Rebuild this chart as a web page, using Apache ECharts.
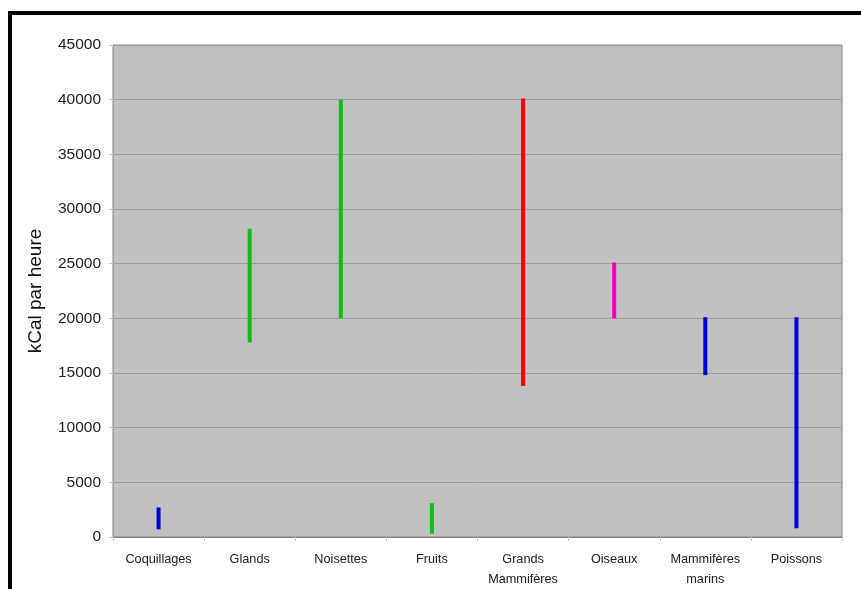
<!DOCTYPE html>
<html>
<head>
<meta charset="utf-8">
<script src="https://cdn.jsdelivr.net/npm/echarts@6/dist/echarts.min.js"></script>
<style>
html,body{margin:0;padding:0;background:#fff;}
#c{width:861px;height:589px;}
</style>
</head>
<body>
<div id="c"></div>
<script>
var categories = ['Coquillages', 'Glands', 'Noisettes', 'Fruits', 'Grands\nMammifères', 'Oiseaux', 'Mammifères\nmarins', 'Poissons'];
var lowValues  = [700, 17800, 20000, 300, 13800, 20000, 14800, 800];
var highValues = [2700, 28200, 40000, 3100, 40100, 25100, 20100, 20100];
var barColors  = ['#0000e0', '#10c010', '#10c010', '#10c010', '#ff0000', '#f000c0', '#0000e0', '#0000e0'];
var yTicks = [0, 5000, 10000, 15000, 20000, 25000, 30000, 35000, 40000, 45000];

var chart = echarts.init(document.getElementById('c'));
var data = categories.map(function (c, i) { return [i, lowValues[i], highValues[i]]; });

chart.setOption({
  animation: false,
  backgroundColor: '#ffffff',
  graphic: [{
    type: 'rect',
    shape: { x: 10, y: 13, width: 900, height: 700 },
    style: { fill: 'none', stroke: '#000', lineWidth: 4 },
    z: 100
  }],
  grid: { left: 113, right: 19, top: 45, bottom: 51, show: true, backgroundColor: '#c0c0c0', borderColor: '#808080', borderWidth: 1 },
  xAxis: {
    type: 'category',
    data: categories,
    boundaryGap: true,
    axisLine: { show: true, lineStyle: { color: '#808080' } },
    axisTick: { show: true, alignWithLabel: false, length: 4, lineStyle: { color: '#c8c8c8' } },
    axisLabel: { color: '#222', fontFamily: 'Liberation Sans, Arial, sans-serif', fontSize: 12.7, margin: 12, lineHeight: 20, interval: 0 }
  },
  yAxis: {
    type: 'value',
    min: yTicks[0], max: yTicks[yTicks.length - 1], interval: yTicks[1] - yTicks[0],
    name: 'kCal par heure',
    nameLocation: 'middle',
    nameGap: 68,
    nameTextStyle: { fontFamily: 'Liberation Sans, Arial, sans-serif', fontSize: 19, color: '#111' },
    axisLine: { show: false },
    axisTick: { show: true, length: 4, lineStyle: { color: '#c8c8c8' } },
    axisLabel: { color: '#222', fontFamily: 'Liberation Sans, Arial, sans-serif', fontSize: 15.5, margin: 12, formatter: function (v) { return String(v); } },
    splitLine: { show: true, lineStyle: { color: '#9a9a9a', width: 1 } }
  },
  series: [{
    type: 'custom',
    data: data,
    encode: { x: 0, y: [1, 2] },
    renderItem: function (params, api) {
      var i = api.value(0);
      var p1 = api.coord([i, api.value(1)]);
      var p2 = api.coord([i, api.value(2)]);
      return {
        type: 'line',
        shape: { x1: p1[0], y1: p1[1], x2: p2[0], y2: p2[1] },
        style: { stroke: barColors[params.dataIndex], lineWidth: 4 }
      };
    }
  }]
});
</script>
</body>
</html>
